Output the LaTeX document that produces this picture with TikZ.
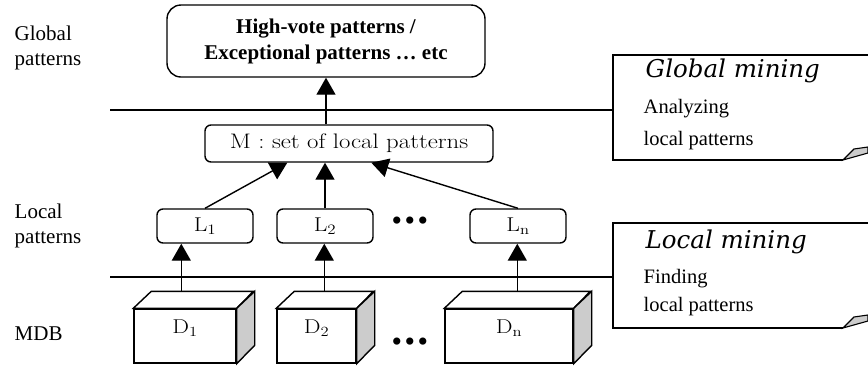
\documentclass[tikz,border=0pt]{standalone}
\usepackage{fontspec}
\usepackage{graphicx}
\newfontfamily\tnr{Liberation Serif}
\newfontfamily\notefont{DejaVu Serif}
\newcommand\widetxt[1]{\scalebox{1.18}[1]{#1}}
\newcommand\bulletrow{•\kern2.5pt•\kern2.5pt•}
\usetikzlibrary{arrows.meta,calc}

\begin{document}
\begin{tikzpicture}[x=1pt, y=-1pt, line width=1.4pt, >={Triangle[length=17pt,width=19pt]},
  level/.style={font=\tnr\fontsize{21}{25}\selectfont, align=left, anchor=base west, inner sep=0pt},
  result/.style={draw, rounded corners=14pt, minimum width=318pt, minimum height=72pt, align=center, inner sep=0pt, font=\tnr\bfseries\fontsize{21}{26}\selectfont},
  patset/.style={draw, rounded corners=6pt, minimum width=288pt, minimum height=37pt, inner sep=0pt, font=\fontsize{21}{24}\selectfont},
  localpat/.style={draw, rounded corners=6pt, minimum width=96pt, minimum height=34pt, inner sep=0pt, font=\fontsize{20}{24}\selectfont},
  dbfront/.style={draw, fill=white, minimum height=54pt, inner sep=0pt, text depth=18pt, font=\fontsize{20}{24}\selectfont},
  notehead/.style={anchor=base west, inner sep=0pt, font=\notefont\itshape\fontsize{24.5}{28}\selectfont},
  notetext/.style={anchor=base west, inner sep=0pt, font=\tnr\fontsize{20.5}{24}\selectfont},
  dots/.style={inner sep=0pt, anchor=base, font=\tnr\fontsize{30}{30}\selectfont}]
\useasboundingbox (0,0) rectangle (868,368);

% levels on the left
\node[level] (gp) at (14,65) {Global\\patterns};
\node[level] (lp) at (14,243) {Local\\patterns};
\node[level] (mdb) at (14,340) {MDB};

% global result and the set M
\node[result] (top) at (326,41) {High-vote patterns /\\Exceptional patterns … etc};
\node[patset] (M) at (349,143.5) {\widetxt{M : set of local patterns}};

% local patterns
\node[localpat] (L1) at (205,226) {\widetxt{L$_1$}};
\node[localpat] (L2) at (325,226) {\widetxt{L$_2$}};
\node[localpat] (Ln) at (518,226) {\widetxt{L$_{\mathrm{n}}$}};
\node[dots] (ldots) at (410,230) {\bulletrow};

% databases
\foreach \name/\x/\w/\lab/\off in {D1/185/102/1/48, D2/316.5/79/2/48, Dn/509/128/n/73} {
  \node[dbfront, minimum width=\w pt] (\name) at (\x,336) {\widetxt{D$_{\mathrm{\lab}}$}};
  \draw[fill=white] (\name.north west) -- ++(18,-17) -- ++(\w,0) -- (\name.north east) -- cycle;
  \draw[fill=gray!40] (\name.north east) -- ++(18,-17) -- ++(0,54) -- (\name.south east) -- cycle;
  \coordinate (\name top) at ($(\name.north west)+(\off,-17)$);
}
\node[dots] (ddots) at (410,351) {\bulletrow};

% dividers and notes
\coordinate (gcut) at (613,110);
\coordinate (lcut) at (613,277);
\draw (110,110) -- (gcut);
\draw (110,277) -- (lcut);

\draw (868,55) -- (613,55) -- (613,160) -- (843,160);
\draw[line width=1.1pt, fill=gray!40] (843,160) -- (854,149) -- (868,147) -- (868,153) -- cycle;
\node[notehead] (gmt) at (645,77) {Global mining};
\node[notetext] (gma) at (643,113) {Analyzing};
\node[notetext] (gmb) at (643,145) {local patterns};

\draw (868,223) -- (613,223) -- (613,328) -- (843,328);
\draw[line width=1.1pt, fill=gray!40] (843,328) -- (854,317) -- (868,315) -- (868,321) -- cycle;
\node[notehead] (lmt) at (645,248) {Local mining};
\node[notetext] (lma) at (643,283) {Finding};
\node[notetext] (lmb) at (643,311) {local patterns};

% arrows
\draw[->] (top.south |- M.north) -- (top.south);
\draw[->] (L1.north) -- ($(M.south west)+(83,0)$);
\draw[->] (L2.north) -- (L2.north |- M.south);
\draw[->] (Ln.north) -- ($(M.south west)+(167,0)$);
\draw[->] (D1top) -- (D1top |- L1.south);
\draw[->] (D2top) -- (D2top |- L2.south);
\draw[->] (Dntop) -- (Dntop |- Ln.south);
\end{tikzpicture}
\end{document}
